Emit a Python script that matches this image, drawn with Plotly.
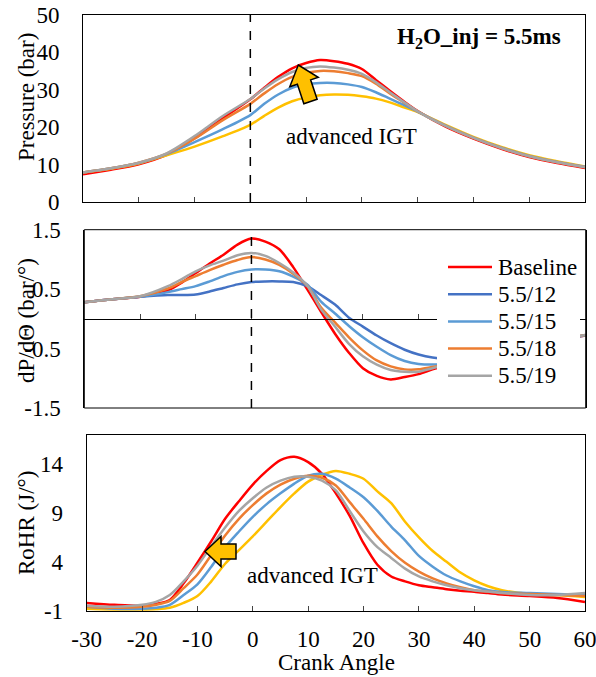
import math
import plotly.graph_objects as go

W, H = 596, 677
FONT = "Times New Roman, Liberation Serif, DejaVu Serif, serif"

SERIES = ["Baseline", "5.5/12", "5.5/15", "5.5/18", "5.5/19"]
# 5.5/12 is drawn in yellow in the pressure and RoHR panels, dark blue in dP/dθ
COLORS_MAIN = ["#FF0000", "#FFC000", "#5B9BD5", "#ED7D31", "#A5A5A5"]
COLORS_DPDT = ["#FF0000", "#4472C4", "#5B9BD5", "#ED7D31", "#A5A5A5"]

# ---- in-cylinder pressure (bar) ----
ca_p = [-30, -25, -20, -15, -10, -5, 0, 2.5, 5, 7.5, 10, 12.5, 15, 17.5, 20, 22.5, 25, 27.5, 30,
        35, 40, 45, 50, 55, 60]
p_baseline = [7.4, 8.6, 10.1, 12.6, 17.0, 22.3, 27.4, 30.5, 33.4, 35.7, 37.1, 37.9, 37.6, 36.9, 35.5, 32.6, 29.7, 26.9, 24.3,
              20.1, 16.9, 14.2, 12.0, 10.4, 9.1]
p_12 = [7.9, 8.9, 10.3, 12.5, 14.8, 17.5, 20.6, 23.0, 25.2, 26.9, 27.9, 28.5, 28.7, 28.6, 28.2, 27.6, 26.6, 25.3, 24.0,
        20.6, 17.4, 14.7, 12.5, 10.9, 9.5]
p_15 = [7.9, 9.0, 10.4, 12.8, 16.0, 19.4, 23.2, 26.2, 28.7, 30.5, 31.4, 31.8, 31.8, 31.4, 30.7, 29.3, 27.6, 25.9, 24.1,
        20.4, 17.2, 14.5, 12.3, 10.7, 9.4]
p_18 = [7.9, 9.0, 10.5, 12.9, 16.9, 21.8, 26.2, 29.0, 31.5, 33.4, 34.5, 35.0, 34.9, 34.4, 33.6, 31.6, 29.0, 26.6, 24.2,
        20.3, 17.1, 14.4, 12.2, 10.6, 9.3]
p_19 = [7.9, 9.0, 10.5, 13.0, 17.6, 22.9, 27.5, 30.3, 32.8, 34.7, 35.8, 36.2, 35.9, 35.3, 34.2, 32.0, 29.3, 26.7, 24.2,
        20.3, 17.1, 14.4, 12.2, 10.6, 9.3]

# ---- pressure rise rate dP/dθ (bar/deg) ----
ca_d = [-30, -25, -20, -15, -12.5, -10, -7.5, -5, -2.5, 0, 2.5, 5, 7.5, 10, 12.5, 15, 17.5,
        20, 22.5, 25, 27.5, 30, 32.5, 35, 40, 45, 50, 55, 60]
d_baseline = [0.28, 0.33, 0.37, 0.48, 0.61, 0.77, 0.93, 1.08, 1.25, 1.35, 1.30, 1.17, 0.87, 0.50, 0.12, -0.25, -0.57,
              -0.83, -0.96, -1.02, -0.98, -0.93, -0.85, -0.78, -0.65, -0.53, -0.43, -0.35, -0.28]
d_12 = [0.28, 0.33, 0.37, 0.40, 0.40, 0.41, 0.46, 0.52, 0.58, 0.62, 0.63, 0.63, 0.62, 0.55, 0.40, 0.24, 0.02,
        -0.13, -0.28, -0.41, -0.52, -0.60, -0.65, -0.67, -0.61, -0.52, -0.43, -0.35, -0.28]
d_15 = [0.28, 0.33, 0.37, 0.45, 0.50, 0.55, 0.63, 0.72, 0.79, 0.83, 0.83, 0.80, 0.71, 0.58, 0.29, 0.09, -0.12,
        -0.31, -0.47, -0.61, -0.71, -0.76, -0.77, -0.76, -0.64, -0.53, -0.43, -0.35, -0.27]
d_18 = [0.28, 0.33, 0.38, 0.51, 0.62, 0.72, 0.82, 0.91, 0.99, 1.04, 1.00, 0.91, 0.76, 0.56, 0.19, -0.06, -0.31,
        -0.53, -0.70, -0.80, -0.85, -0.85, -0.81, -0.77, -0.65, -0.54, -0.44, -0.35, -0.27]
d_19 = [0.28, 0.33, 0.38, 0.55, 0.67, 0.80, 0.90, 0.98, 1.07, 1.11, 1.06, 0.94, 0.78, 0.56, 0.16, -0.13, -0.42,
        -0.63, -0.77, -0.86, -0.89, -0.89, -0.83, -0.78, -0.66, -0.54, -0.44, -0.35, -0.27]

# ---- rate of heat release (J/deg) ----
ca_r = [-30, -25, -20, -17.5, -15, -12.5, -10, -7.5, -5, -2.5, 0, 2.5, 5, 7.5, 10, 12.5, 15, 17.5,
        20, 22.5, 25, 27.5, 30, 32.5, 35, 37.5, 40, 42.5, 45, 50, 55, 60]
r_baseline = [-0.2, -0.4, -0.5, -0.3, 0.1, 1.8, 3.9, 6.1, 8.4, 10.2, 11.9, 13.3, 14.4, 14.75, 14.2, 13.0, 11.0, 8.7,
              5.9, 3.7, 2.5, 2.0, 1.6, 1.4, 1.2, 1.05, 0.95, 0.8, 0.65, 0.5, 0.3, -0.1]
r_12 = [-0.8, -0.9, -0.9, -0.85, -0.7, -0.2, 0.5, 2.0, 3.8, 5.2, 6.6, 8.1, 9.6, 11.0, 12.2, 12.9, 13.3, 13.0,
        12.5, 11.2, 10.0, 8.1, 6.5, 5.1, 4.0, 2.9, 2.1, 1.5, 1.1, 0.7, 0.6, 0.4]
r_15 = [-0.6, -0.8, -0.8, -0.7, -0.4, 0.6, 1.7, 3.5, 5.5, 7.1, 8.6, 9.9, 11.0, 12.0, 12.8, 13.0, 12.5, 11.6,
        10.6, 9.2, 7.6, 6.2, 4.6, 3.5, 2.6, 2.0, 1.5, 1.1, 0.9, 0.8, 0.7, 0.6]
r_18 = [-0.6, -0.7, -0.6, -0.4, 0.0, 1.3, 2.7, 4.7, 6.7, 8.4, 9.8, 11.0, 11.9, 12.5, 12.8, 12.6, 11.8, 10.1,
        8.4, 6.6, 5.1, 3.9, 3.0, 2.3, 1.8, 1.4, 1.1, 0.95, 0.8, 0.7, 0.6, 0.5]
r_19 = [-0.5, -0.6, -0.4, -0.1, 0.6, 2.0, 3.6, 5.6, 7.5, 9.2, 10.5, 11.6, 12.3, 12.7, 12.7, 12.3, 11.3, 9.2,
        7.1, 5.5, 4.4, 3.3, 2.5, 2.0, 1.6, 1.3, 1.1, 0.95, 0.8, 0.6, 0.6, 0.8]

# tick values and their printed labels (plain hyphen for negatives)
x_ticks = [-30, -20, -10, 0, 10, 20, 30, 40, 50, 60]
x_labels = ["-30", "-20", "-10", "0", "10", "20", "30", "40", "50", "60"]
p_ticks = [0, 10, 20, 30, 40, 50]
p_labels = ["0", "10", "20", "30", "40", "50"]
d_ticks = [-1.5, -0.5, 0.5, 1.5]
d_labels = ["-1.5", "-0.5", "0.5", "1.5"]
r_ticks = [-1, 4, 9, 14]
r_labels = ["-1", "4", "9", "14"]


def px_x(px):
    return px / W


def px_y(py):
    return 1 - py / H


fig = go.Figure()

panels = [
    ("x", "y", ca_p, [p_baseline, p_12, p_15, p_18, p_19], COLORS_MAIN),
    ("x2", "y2", ca_d, [d_baseline, d_12, d_15, d_18, d_19], COLORS_DPDT),
    ("x3", "y3", ca_r, [r_baseline, r_12, r_15, r_18, r_19], COLORS_MAIN),
]
for xa, ya, ca, ys, cols in panels:
    for name, yv, col in zip(SERIES, ys, cols):
        fig.add_trace(go.Scatter(
            x=ca, y=yv, name=name, mode="lines", xaxis=xa, yaxis=ya,
            line=dict(color=col, width=2.5, shape="spline", smoothing=0.8),
            showlegend=False,
        ))

axis_common = dict(showgrid=False, zeroline=False, linecolor="black", linewidth=1, automargin=False,
                   ticklabeloverflow="allow", tickfont=dict(family=FONT, size=23, color="black"))

dom_top = [px_y(202), px_y(14.7)]
dom_mid = [px_y(408), px_y(229.7)]
dom_bot = [px_y(610.7), px_y(434.7)]
zero_pos = (dom_mid[0] + dom_mid[1]) / 2

fig.update_layout(
    width=W, height=H, autosize=False,
    margin=dict(l=0, r=0, t=0, b=0, pad=0),
    paper_bgcolor="white", plot_bgcolor="white",
    font=dict(family=FONT, size=23, color="black"),
    showlegend=False,
    xaxis=dict(domain=[px_x(83), px_x(585)], range=[-30, 60], anchor="y", tickvals=x_ticks,
               showticklabels=False, ticks="inside", ticklen=5, showline=True, mirror=True, **axis_common),
    yaxis=dict(domain=dom_top, range=[0, 50], anchor="x", tickvals=p_ticks, ticktext=p_labels, ticks="",
               showline=True, mirror=True, ticklabelstandoff=18, **axis_common),
    xaxis2=dict(domain=[px_x(84.3), px_x(585.7)], range=[-30, 60], anchor="free", position=zero_pos,
                tickvals=x_ticks, showticklabels=False, ticks="inside", ticklen=5, showline=True, **axis_common),
    yaxis2=dict(domain=dom_mid, range=[-1.5, 1.5], anchor="x2", tickvals=d_ticks, ticktext=d_labels, ticks="",
                showline=True, mirror=True, ticklabelstandoff=18, **axis_common),
    xaxis3=dict(domain=[px_x(86.7), px_x(585)], range=[-30, 60], anchor="y3", tickvals=x_ticks, ticktext=x_labels,
                ticks="inside", ticklen=5, showline=True, mirror=True, ticklabelstandoff=8, **axis_common),
    yaxis3=dict(domain=dom_bot, range=[-1, 17], anchor="x3", tickvals=r_ticks, ticktext=r_labels, ticks="",
                showline=True, mirror=True, ticklabelstandoff=18, **axis_common),
)

shapes = []
# frame lines closing the dP/dθ panel
shapes.append(dict(type="rect", xref="x2 domain", yref="y2 domain", x0=0, x1=1, y0=0, y1=1,
                   line=dict(color="black", width=1), layer="above"))
# TDC markers
for xr, yr in (("x", "y domain"), ("x2", "y2 domain")):
    shapes.append(dict(type="line", xref=xr, yref=yr, x0=0, x1=0, y0=0, y1=1,
                       line=dict(color="black", width=1.5, dash="dash")))


def block_arrow(tip, tail, head_len, head_half, shaft_half):
    tx, ty = tip
    bx, by = tail
    L = math.hypot(tx - bx, ty - by)
    dx, dy = (tx - bx) / L, (ty - by) / L
    nx, ny = -dy, dx
    hx, hy = tx - head_len * dx, ty - head_len * dy
    pts = [
        (tx, ty),
        (hx + head_half * nx, hy + head_half * ny),
        (hx + shaft_half * nx, hy + shaft_half * ny),
        (bx + shaft_half * nx, by + shaft_half * ny),
        (bx - shaft_half * nx, by - shaft_half * ny),
        (hx - shaft_half * nx, hy - shaft_half * ny),
        (hx - head_half * nx, hy - head_half * ny),
    ]
    path = "M " + " L ".join(f"{px_x(x):.5f},{px_y(y):.5f}" for x, y in pts) + " Z"
    return dict(type="path", xref="paper", yref="paper", path=path,
                fillcolor="#FFC000", line=dict(color="black", width=1.5), layer="above")


shapes.append(block_arrow((298.3, 65), (310.5, 101.5), 18, 15, 7))
shapes.append(block_arrow((205, 551.5), (236, 551.5), 16, 15, 7.5))

# legend box for the dP/dθ panel (white backing over the curves)
LEG_X0, LEG_X1, LEG_TOP, LEG_STEP = 437, 580, 253, 27.2
shapes.append(dict(type="rect", xref="paper", yref="paper",
                   x0=px_x(LEG_X0), x1=px_x(LEG_X1), y0=px_y(LEG_TOP), y1=px_y(LEG_TOP + 5 * LEG_STEP + 4),
                   fillcolor="white", line=dict(width=0), layer="above"))


def label(text, x, y, **kw):
    d = dict(text=text, x=px_x(x), y=px_y(y), xref="paper", yref="paper", xanchor="center",
             yanchor="middle", showarrow=False, font=dict(family=FONT, size=23, color="black"))
    d.update(kw)
    return d


ann = []
for i, (name, col) in enumerate(zip(SERIES, COLORS_DPDT)):
    yc = LEG_TOP + 14 + i * LEG_STEP
    shapes.append(dict(type="line", xref="paper", yref="paper", x0=px_x(448), x1=px_x(492),
                       y0=px_y(yc), y1=px_y(yc), line=dict(color=col, width=2.5), layer="above"))
    ann.append(label(name, 496, yc, xanchor="left"))
fig.update_layout(shapes=shapes)

ann.append(label("<b>H<sub>2</sub>O_inj = 5.5ms</b>", 479, 38))
ann.append(label("advanced IGT", 351.5, 137))
ann.append(label("advanced IGT", 312.5, 575))
ann.append(label("Crank Angle", 336, 662))
for txt, yc in (("Pressure (bar)", 97), ("dP/dΘ (bar/°)", 321), ("RoHR (J/°)", 523)):
    ann.append(label(txt, 26, yc, textangle=-90))
fig.update_layout(annotations=ann)

fig.write_html("out.html")
